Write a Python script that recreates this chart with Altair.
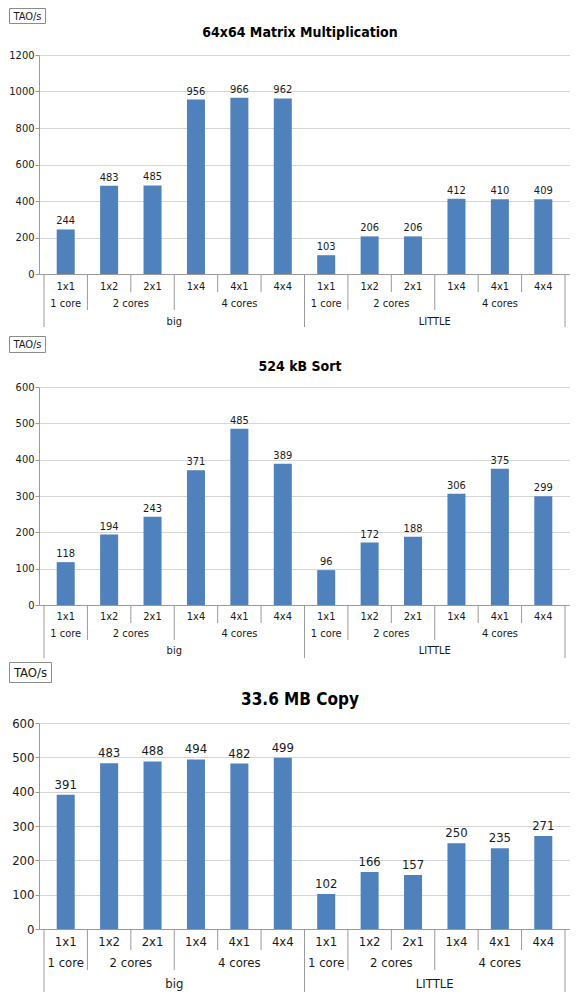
import altair as alt
import pandas as pd

# ---------------- data ----------------
configs = ["1x1", "1x2", "2x1", "1x4", "4x1", "4x4",
           "1x1", "1x2", "2x1", "1x4", "4x1", "4x4"]
core_labels = ["1 core", "2 cores", "4 cores", "1 core", "2 cores", "4 cores"]
core_spans = [1, 2, 3, 1, 2, 3]
group_labels = ["big", "LITTLE"]
group_spans = [6, 6]

titles = ["64x64 Matrix Multiplication", "524 kB Sort", "33.6 MB Copy"]
mm_vals = [244, 483, 485, 956, 966, 962, 103, 206, 206, 412, 410, 409]
sort_vals = [118, 194, 243, 371, 485, 389, 96, 172, 188, 306, 375, 299]
copy_vals = [391, 483, 488, 494, 482, 499, 102, 166, 157, 250, 235, 271]
y_ticks_mm = [0, 200, 400, 600, 800, 1000, 1200]
y_ticks_small = [0, 100, 200, 300, 400, 500, 600]
unit_label = "TAO/s"

FONT = "DejaVu Sans Condensed"
BAR = "#4f81bd"
AX = "#9a9a9a"
TXT = "#1a1a1a"
W = 531


def spans_to_centers(spans):
    out, start = [], 0
    for s in spans:
        out.append(start + (s - 1) / 2)
        start += s
    return out


def spans_to_bounds(spans):
    out, start = [], 0
    for s in spans:
        start += s
        out.append(start - 0.5)
    return out


core_centers = spans_to_centers(core_spans)
group_centers = spans_to_centers(group_spans)
full_bounds = [-0.5] + spans_to_bounds(group_spans)
mid_bounds = [b for b in spans_to_bounds(core_spans) if b not in full_bounds]
short_bounds = [i + 0.5 for i in range(len(configs) - 1)
                if (i + 0.5) not in full_bounds and (i + 0.5) not in mid_bounds]


def panel(title, vals, yticks, h, top, fs, tfs, rows, seps, box, title_y):
    X = alt.X("idx:Q",
              scale=alt.Scale(domain=[-0.5, len(configs) - 0.5], nice=False, zero=False),
              axis=alt.Axis(labels=False, ticks=False, grid=False, title=None,
                            domainColor=AX, domainWidth=1))
    df = pd.DataFrame({"idx": list(range(len(configs))), "cfg": configs, "val": vals})
    base = alt.Chart(df)
    Y = alt.Y("val:Q",
              scale=alt.Scale(domain=[yticks[0], yticks[-1]], nice=False, range=[h, top]),
              axis=alt.Axis(values=yticks, format="d", title=None, grid=True, gridColor="#d6d6d6",
                            domainColor=AX, tickColor=AX, tickSize=4, labelFont=FONT,
                            labelFontSize=fs, labelColor=TXT, labelPadding=1))
    bars = base.mark_bar(size=18, color=BAR).encode(x=X, y=Y)
    vlab = base.mark_text(font=FONT, fontSize=fs, color=TXT, baseline="bottom", dy=-3).encode(
        x=X, y=Y, text="val:Q")
    cfglab = base.mark_text(font=FONT, fontSize=fs, color=TXT, baseline="middle").encode(
        x=X, y=alt.value(h + rows[0]), text="cfg:N")
    cdf = pd.DataFrame({"idx": core_centers, "lab": core_labels})
    corelab = alt.Chart(cdf).mark_text(font=FONT, fontSize=fs, color=TXT, baseline="middle").encode(
        x=X, y=alt.value(h + rows[1]), text="lab:N")
    gdf = pd.DataFrame({"idx": group_centers, "lab": group_labels})
    glab = alt.Chart(gdf).mark_text(font=FONT, fontSize=fs, color=TXT, baseline="middle").encode(
        x=X, y=alt.value(h + rows[2]), text="lab:N")
    rules = []
    for bounds, ln in zip([short_bounds, mid_bounds, full_bounds], seps):
        rdf = pd.DataFrame({"idx": bounds})
        rules.append(alt.Chart(rdf).mark_rule(color=AX, strokeWidth=1).encode(
            x=X, y=alt.value(h), y2=alt.value(h + ln)))
    one = pd.DataFrame({"t": [unit_label], "ttl": [title]})
    bx = alt.Chart(one).mark_rect(fill="white", stroke="#8c8c8c", strokeWidth=1).encode(
        x=alt.value(box[0]), x2=alt.value(box[1]),
        y=alt.value(top + box[2]), y2=alt.value(top + box[3]))
    btxt = alt.Chart(one).mark_text(font=FONT, fontSize=fs, color=TXT, baseline="middle").encode(
        x=alt.value((box[0] + box[1]) / 2), y=alt.value(top + (box[2] + box[3]) / 2 + 0.5),
        text="t:N")
    ttl = alt.Chart(one).mark_text(font=FONT, fontSize=tfs, fontWeight="bold", color="#000",
                                   baseline="middle").encode(
        x=alt.value(261), y=alt.value(top + title_y), text="ttl:N")
    return alt.layer(bars, vlab, cfglab, corelab, glab, *rules, bx, btxt, ttl).properties(
        width=W, height=h)


p1 = panel(titles[0], mm_vals, y_ticks_mm, 219, 0, 11, 14,
           rows=[13, 30, 48], seps=[18, 36, 53], box=[-29.5, 6.5, -46.5, -31.5], title_y=-22)
p2 = panel(titles[1], sort_vals, y_ticks_small, 218, 0, 11, 14,
           rows=[12, 29, 46], seps=[18, 35, 53], box=[-29.5, 6.5, -50.5, -34.5], title_y=-20)
p3 = panel(titles[2], copy_vals, y_ticks_small, 211, 5, 13, 17,
           rows=[13, 34, 55], seps=[21, 41, 63], box=[-29.5, 12.5, -60.5, -40.5], title_y=-23)

chart = alt.vconcat(p1, p2, p3, spacing=113, bounds="flush").properties(
    padding=0
).configure_view(stroke=None)

chart.save("out.html", embed_options={"renderer": "svg", "actions": False})
